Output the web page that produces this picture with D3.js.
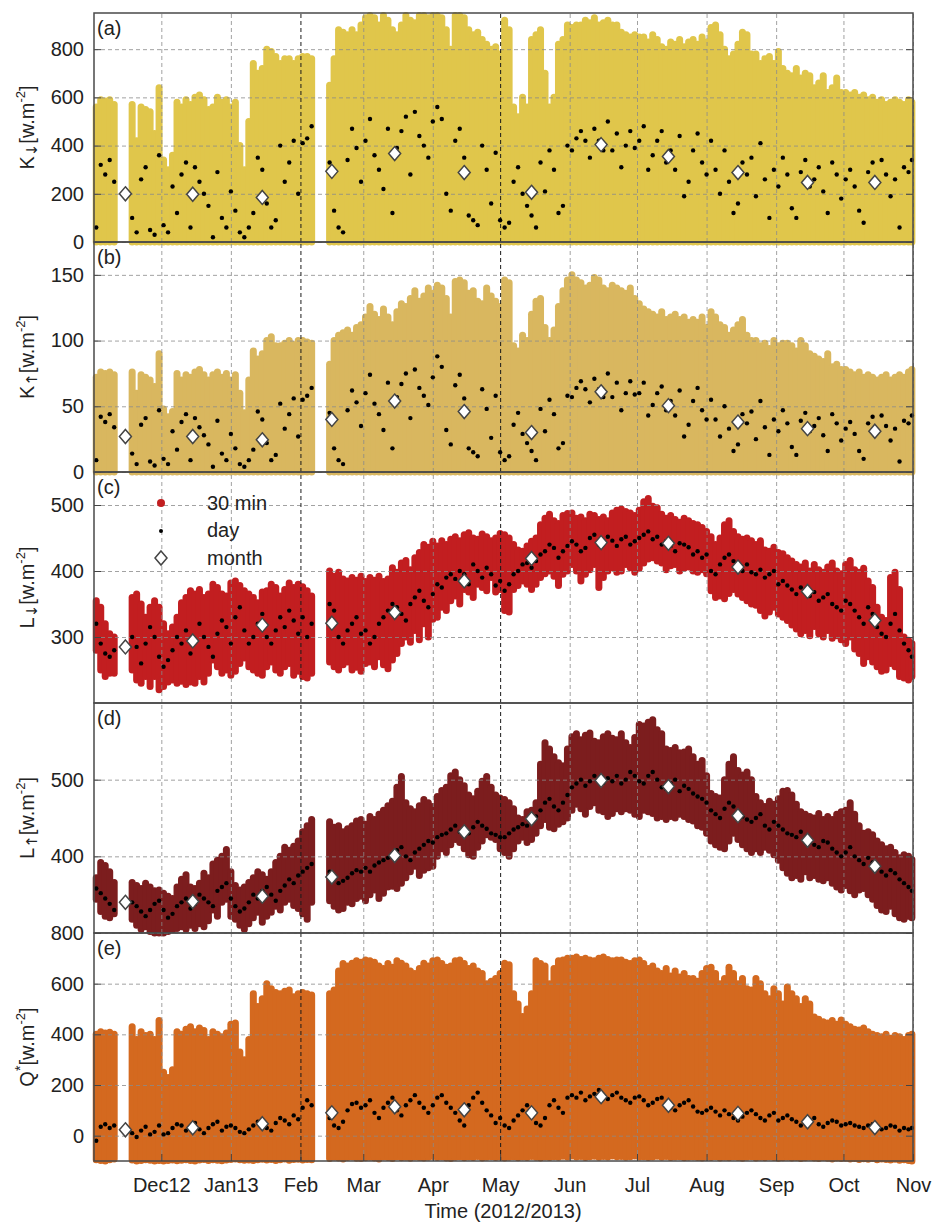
<!DOCTYPE html>
<html>
<head>
<meta charset="utf-8">
<script src="https://cdn.jsdelivr.net/npm/d3@7"></script>
<style>
body { margin: 0; background: #fff; }
svg text { font-family: "Liberation Sans", Arial, sans-serif; fill: #222; }
</style>
</head>
<body>
<svg id="chart" width="933" height="1228"></svg>
<script>
// 2-day bins from 1 Nov 2012 to 31 Oct 2013 (183 bins), null = no data
const monthLabels = ["Dec12", "Jan13", "Feb", "Mar", "Apr", "May", "Jun", "Jul", "Aug", "Sep", "Oct", "Nov"];
const nightFloor = 0;

// (a) K down, 30-min upper envelope per bin
const kdMax = [
    560,590,585,590,570, null,null,null, 570,420,560,550,540,450,640,
    340,300,360,580, 560,590,570,600,610,590,550, 560,600,580,590,560,
    580,400,300,500, 740,700,720, 800,790,770, 740,760,760,740, 760,770,770,760,
    null,null,null, 650,760,880,870,860,880,860,900,930,
    940,930,900,940,920,880,860,900,940,920,910,940,940,930,940,
    940,930,880,800,940,940,930,880,860,870,840,820,800,810,780,
    920,880,560,520,600,560,840,860,880,700,560,600,820,840,900,
    890,900,900,920,910,930,900,910,920,900,900, 870,860,850,860,850,
    850,830,860,840,810,800,830,820,840,810,830, 840,820,850,830, 890,900,860,
    800,760,780,820,870,860,780, 780,740,760,770,740,790,720, 700,690,720,680,700,690,
    640,660,690,620,640,680,620, 620,610,620,600,610,
    590,600,580,590,570,580,590,580,570,590,580
];
const kdDay = [
    60,320,280,340,250,null,null,null,100,40,260,310,50,30,360,
    70,40,230,120,280,330,60,310,250,200,150,20,290,100,60,210,
    130,40,20,60,120,350,300,160,60,90,400,250,330,420,200,
    410,430,480,null,null,null,330,130,60,40,340,470,390,250,
    420,510,360,300,220,470,120,390,460,520,280,540,440,400,350,500,
    560,510,200,130,420,470,350,110,90,70,400,300,160,370,90,
    60,80,250,310,200,150,110,60,330,210,380,300,120,150,400,
    380,430,460,420,350,470,420,380,500,380,450,310,400,460,390,
    420,480,300,360,420,460,330,380,300,440,190,250,380,450,330,280,
    420,300,200,380,250,120,160,330,280,350,190,410,260,100,300,
    230,350,280,140,100,290,340,230,260,310,210,120,330,280,180,
    260,300,230,130,80,290,330,250,340,280,190,260,60,310,290,340
];
const kdMonth = [200, 198, 185, 293, 367, 288, 206, 404, 355, 288, 247, 247];

// (b) K up
const kuMax = [
    72,76,75,76,74, null,null,null, 76,60,74,72,70,65,90,
    48,42,46,75, 70,74,72,76,78,74,70, 74,76,72,75,70,
    74,60,45,70, 92,86,90, 100,103,96, 96,98,100,97, 100,100,99,98,
    null,null,null, 82,100,104,106,108,104,110,112,118,
    126,120,116,124,118,112,122,128,126,132,138,130,134,140,136,
    142,140,132,118,145,146,144,136,138,130,128,140,134,130,126,
    146,144,96,92,104,100,120,130,132,110,100,108,126,138,146,
    150,146,144,140,142,148,146,140,138,142,140, 138,136,140,132,128,
    124,122,120,118,122,116,118,120,116,118,114, 116,114,118,110, 122,118,112,
    110,104,108,112,116,104,100, 100,96,98,94,100,96,98, 98,96,92,100,96,90,
    88,86,84,90,80,82,78, 78,76,74,76,72,
    74,72,70,72,74,70,72,74,72,76,78
];
const kuDay = [
    9,42,38,44,34,null,null,null,14,6,36,41,8,5,47,
    10,6,31,17,38,44,9,41,34,28,21,4,39,14,9,29,
    18,6,4,9,17,46,40,22,9,13,52,33,44,56,27,
    55,58,64,null,null,null,45,18,9,6,47,62,53,35,
    60,74,52,44,32,68,18,57,67,75,41,78,64,58,51,72,
    88,80,32,21,66,74,56,18,15,12,63,48,26,58,15,
    9,12,36,45,29,22,16,9,48,31,55,44,18,22,58,
    57,64,69,63,53,71,63,57,75,57,68,47,60,69,59,
    60,68,43,51,60,65,47,54,43,62,27,36,54,64,47,40,
    55,40,27,50,33,16,21,44,37,46,25,54,34,13,40,
    31,47,37,19,13,39,45,31,35,41,28,16,44,37,24,
    33,38,29,16,10,37,42,32,43,35,24,33,8,39,37,43
];
const kuMonth = [27, 27, 24.5, 40, 54, 46, 30, 61, 50.5, 38, 33, 31];

// (c) L down
const ldMax = [
    355,345,320,305,300, null,null,null, 360,365,350,330,345,355,345,
    320,305,315,330, 352,360,370,365,372,360,365, 380,375,365,362,382,
    385,378,370,365, 360,352,368, 370,380,375, 362,372,382,375, 380,376,370,362,
    null,null,null, 400,392,398,388,385,390,386,392,384,
    390,386,392,384,388,405,398,412,416,402,420,428,440,436,445,
    438,446,440,448,452,446,455,458,450,448,456,452,446,450,457,
    455,450,440,432,430,438,445,450,470,480,486,476,472,484,487,
    488,480,482,476,486,484,478,482,476,488,492, 494,490,488,484,492,
    505,510,498,496,486,480,484,478,474,480,476, 472,470,466,460, 452,440,450,
    470,476,460,452,448,450,446, 440,446,432,430,436,428,426, 420,415,410,406,412,400,
    410,402,398,406,412,400,396, 410,416,402,398,404,
    385,375,345,330,325,390,398,372,300,295,290
];
const ldMin = [
    280,250,240,245,245, null,null,null, 250,235,230,240,225,240,220,
    225,232,235,230, 233,228,232,230,240,232,245, 265,255,245,250,242,
    248,260,268,255, 250,245,242, 255,262,250, 245,255,260,242, 248,240,238,245,
    null,null,null, 262,255,250,258,262,250,254,248,260,
    262,255,270,258,252,265,275,290,300,292,310,296,320,300,327,
    330,345,340,355,362,350,372,368,360,380,375,370,390,368,372,
    340,338,372,378,385,380,372,380,390,396,400,392,378,395,400,
    410,400,385,395,402,410,375,390,400,405,398, 400,410,405,398,404,
    412,418,420,415,412,402,408,410,400,404,406, 400,398,402,396, 370,360,362,
    358,366,372,365,360,355,350, 348,340,332,338,345,335,330, 325,318,312,305,310,302,
    316,305,300,310,298,302,296, 290,300,282,275,260,
    270,262,255,248,250,260,255,240,238,235,240
];
const ldDay = [
    320,290,275,270,280,null,null,null,300,285,260,290,315,300,270,
    255,265,280,300,290,310,275,295,320,300,285,270,305,325,315,290,
    330,345,310,290,300,320,335,300,290,310,330,315,340,325,305,
    330,300,320,null,null,null,350,340,300,290,310,320,330,305,
    310,290,300,320,330,340,350,345,335,325,350,360,370,355,345,365,
    380,375,390,395,388,400,395,380,410,400,390,405,395,378,385,
    370,380,395,400,410,412,405,415,425,430,440,435,420,430,438,
    445,440,430,435,450,455,440,445,452,446,438,448,452,440,445,
    450,455,460,448,452,440,445,438,430,442,440,436,425,430,420,425,
    400,395,410,420,425,415,405,400,410,398,395,402,390,395,400,
    380,385,378,372,365,375,370,362,368,355,360,365,350,345,340,
    355,350,340,330,320,345,335,315,305,300,320,335,310,290,280,270
];
const ldMonth = [285, 294, 318, 321, 337, 385, 419, 443, 442, 406, 369, 325];

// (d) L up
const luMax = [
    372,392,388,380,366, null,null,null, 366,362,358,365,360,355,356,
    352,348,345,360, 370,376,360,358,365,378,372, 390,395,400,409,380,
    362,356,360,366, 372,380,376, 370,380,392, 400,412,408,413, 420,432,440,448,
    null,null,null, 445,438,440,432,436,440,446,448,442,
    452,448,455,460,466,472,490,504,470,462,458,466,474,470,465,
    478,486,490,505,510,500,492,480,475,485,498,504,490,480,476,
    474,470,462,450,448,458,460,470,520,548,540,530,522,518,540,
    556,560,552,558,561,550,548,556,560,554,552, 560,548,542,555,572,
    570,575,578,565,560,540,538,542,535,536,540, 530,520,525,505, 482,478,476,
    500,520,530,512,506,510,500, 478,470,465,472,468,475,485, 486,480,468,458,455,452,
    450,456,448,452,448,455,458, 460,470,455,440,430,
    432,428,420,415,410,412,405,398,402,400,396
];
const luMin = [
    344,328,322,320,325, null,null,null, 318,310,305,308,302,300,300,
    300,302,304,306, 308,305,310,306,312,308,316, 330,322,340,344,322,
    318,310,305,312, 320,327,314, 322,327,335, 330,340,344,336, 332,325,318,340,
    null,null,null, 342,335,330,332,340,338,345,348,342,
    350,356,345,352,360,361,358,365,372,380,387,375,382,385,387,
    400,410,405,415,422,418,410,402,400,412,420,428,425,422,410,
    405,400,410,420,425,418,422,430,440,448,438,436,442,445,450,
    460,468,462,455,465,470,460,458,452,456,462, 458,462,460,455,452,
    460,458,456,450,452,448,452,450,455,452,448, 446,440,438,430, 420,415,412,
    410,420,430,422,415,410,405, 410,405,412,408,402,395,385, 378,372,375,370,380,372,
    375,370,368,372,365,360,356, 362,355,350,356,358,
    350,344,336,330,328,335,325,320,318,322,320
];
const luDay = [
    358,352,345,338,330,null,null,null,340,335,328,322,330,338,342,
    330,320,325,335,340,345,332,338,350,345,340,335,355,360,365,345,
    335,328,332,340,350,345,355,360,350,342,355,362,370,365,375,
    380,385,390,null,null,null,380,372,365,368,372,378,382,380,
    385,380,388,392,395,398,402,408,412,400,395,405,410,415,420,418,
    425,428,430,435,440,432,428,430,438,445,440,436,430,428,425,
    425,430,435,438,442,440,445,452,460,470,475,465,460,470,480,
    490,495,500,492,498,505,500,496,502,498,505,495,500,510,505,
    498,495,505,510,500,490,488,495,500,485,492,488,482,478,475,470,
    460,455,450,462,470,465,458,452,448,445,450,455,440,435,445,
    440,435,430,428,425,432,420,418,415,412,420,418,410,405,400,
    405,412,400,395,390,398,392,385,380,375,382,378,370,365,360,355
];
const luMonth = [340, 341, 348, 373, 401, 432, 449, 499, 491, 453, 421, 387];

// (e) Q*
const qsMax = [
    400,410,405,408,400, null,null,null, 430,380,410,395,400,380,455,
    250,230,260,410, 400,420,430,410,425,415,380, 410,400,390,405,440,
    445,330,300,380, 560,510,540, 600,580,565, 560,570,575,548, 560,565,560,555,
    null,null,null, 560,575,650,680,670,681,690,685,693,
    690,685,670,660,680,665,690,681,670,650,640,660,681,670,690,
    693,680,665,670,690,693,680,660,670,650,640,600,610,620,640,
    681,675,560,520,470,500,560,690,680,670,600,660,690,693,700,
    700,705,695,700,693,690,700,705,695,690,693, 693,685,680,690,693,
    680,660,670,650,640,660,630,650,626,640,620, 620,610,640,660, 665,640,600,
    620,665,640,600,620,580,575, 620,600,560,540,580,560,520, 587,560,540,510,540,520,
    468,460,450,445,455,440,457, 440,430,420,417,425,
    410,400,395,390,400,385,395,390,380,395,400
];
const qsMin = [
    -95,-98,-100,-95,-92, null,null,null, -96,-100,-98,-95,-97,-100,-98,
    -100,-98,-96,-99, -97,-95,-98,-100,-96,-94,-98, -95,-97,-99,-96,-94,
    -92,-95,-97,-96, -98,-95,-93, -96,-94,-98, -95,-92,-97,-94, -93,-96,-94,-95,
    null,null,null, -90,-85,-88,-92,-86,-84,-89,-90,-87,
    -85,-88,-92,-84,-86,-90,-83,-87,-85,-89,-84,-86,-88,-85,-82,
    -86,-84,-88,-90,-85,-83,-87,-84,-86,-82,-88,-85,-83,-86,-84,
    -88,-85,-83,-87,-84,-86,-82,-85,-88,-84,-86,-83,-85,-81,-84,
    -80,-84,-82,-86,-83,-81,-85,-82,-84,-80,-83, -82,-85,-83,-80,-84,
    -83,-86,-84,-81,-85,-82,-86,-84,-83,-87,-85, -84,-86,-88,-85, -86,-83,-88,
    -85,-87,-84,-86,-89,-85,-83, -88,-85,-87,-84,-86,-89,-87, -85,-88,-86,-90,-87,-85,
    -88,-90,-86,-89,-92,-88,-90, -89,-92,-90,-94,-91,
    -93,-90,-95,-92,-94,-96,-93,-97,-95,-98,-100
];
const qsDay = [
    -20,35,45,30,40,null,null,null,10,-5,20,35,5,15,40,
    5,10,30,45,40,20,35,50,25,10,30,45,55,20,35,40,
    30,15,10,25,40,55,45,30,20,50,70,60,45,80,65,
    110,140,120,null,null,null,70,40,30,55,100,125,130,110,
    120,140,90,70,110,130,150,100,80,120,140,160,130,110,90,120,
    150,160,130,110,90,60,40,120,150,170,130,100,80,50,70,
    40,30,60,80,100,120,90,50,40,70,120,140,110,90,150,
    160,150,170,140,155,165,180,150,145,160,170,150,140,130,150,
    155,140,120,130,145,150,125,110,100,120,130,140,115,95,90,100,
    110,95,80,100,85,70,60,75,90,100,85,70,60,80,90,
    60,70,80,65,55,40,50,60,70,45,35,50,60,55,40,
    45,50,40,35,30,40,45,35,25,30,40,35,20,30,25,30
];
const qsMonth = [23, 31, 47, 90, 114, 102, 90, 154, 120, 88, 55, 32];

const N_BINS = 183;
[kdMax, kdDay, kuMax, kuDay, ldMax, ldMin, ldDay, luMax, luMin, luDay, qsMax, qsMin, qsDay].forEach((a, i) => {
    if (a.length != N_BINS) throw new Error('array ' + i + ' has ' + a.length);
});

const start = new Date(Date.UTC(2012, 10, 1));
const end = new Date(Date.UTC(2013, 10, 1));
const binDates = d3.range(N_BINS).map(i => d3.utcHour.offset(start, Math.min(i * 2 + 1, 364.5) * 24));
const monthDates = d3.range(12).map(i => new Date(Date.UTC(2012, 10 + i, 15)));
const monthTicks = d3.utcMonth.range(new Date(Date.UTC(2012, 11, 1)), new Date(Date.UTC(2013, 10, 2)));

const left = 94;
const right = 913;
const svg = d3.select('#chart');
const x = d3.scaleUtc().domain([start, end]).range([left, right]);

const panels = [
    {tag: '(a)', top: 13, bottom: 242, domain: [0, 950], ticks: [0, 200, 400, 600, 800], color: '#e0c64b',
     max: kdMax, min: null, day: kdDay, month: kdMonth, sym: 'K', arrow: '\u2193'},
    {tag: '(b)', top: 242, bottom: 472, domain: [0, 175], ticks: [0, 50, 100, 150], color: '#d9b75f',
     max: kuMax, min: null, day: kuDay, month: kuMonth, sym: 'K', arrow: '\u2191'},
    {tag: '(c)', top: 472, bottom: 703, domain: [200, 550], ticks: [300, 400, 500], color: '#c21e20',
     max: ldMax, min: ldMin, day: ldDay, month: ldMonth, sym: 'L', arrow: '\u2193'},
    {tag: '(d)', top: 703, bottom: 933, domain: [300, 600], ticks: [400, 500], color: '#7c1d1e',
     max: luMax, min: luMin, day: luDay, month: luMonth, sym: 'L', arrow: '\u2191'},
    {tag: '(e)', top: 933, bottom: 1161, domain: [-100, 800], ticks: [0, 200, 400, 600, 800], color: '#d4691f',
     max: qsMax, min: qsMin, day: qsDay, month: qsMonth, sym: 'Q', star: true}
];

const diamond = 'M0,-7L6,0L0,7L-6,0Z';

panels.forEach((p, k) => {
    const y = d3.scaleLinear().domain(p.domain).range([p.bottom, p.top]);
    const g = svg.append('g');

    // 30 min cloud, one column per bin
    const cloud = p.max.map((v, i) => ({t: binDates[i], hi: v, lo: p.min ? p.min[i] : nightFloor}))
        .filter(d => d.hi != null);
    g.append('g').selectAll('line').data(cloud).join('line')
        .attr('x1', d => x(d.t)).attr('x2', d => x(d.t))
        .attr('y1', d => y(d.hi)).attr('y2', d => y(d.lo))
        .attr('stroke', p.color).attr('stroke-width', 7).attr('stroke-linecap', 'round');

    // grid
    g.append('g').attr('transform', `translate(${left},0)`)
        .call(d3.axisLeft(y).tickValues(p.ticks).tickSize(-(right - left)).tickFormat(''))
        .call(a => a.select('.domain').remove())
        .selectAll('line').attr('stroke', '#8a8a8a').attr('stroke-width', 0.8).attr('stroke-dasharray', '4,3');
    g.append('g').attr('transform', `translate(0,${p.bottom})`)
        .call(d3.axisBottom(x).tickValues(monthTicks).tickSize(-(p.bottom - p.top)).tickFormat(''))
        .call(a => a.select('.domain').remove())
        .selectAll('line')
        .attr('stroke', d => (d.getUTCMonth() == 1 || d.getUTCMonth() == 4) ? '#1a1a1a' : '#8a8a8a')
        .attr('stroke-width', d => (d.getUTCMonth() == 1 || d.getUTCMonth() == 4) ? 1 : 0.8)
        .attr('stroke-dasharray', '4,3');

    // daily values
    const days = p.day.map((v, i) => ({t: binDates[i], v})).filter(d => d.v != null);
    g.append('g').selectAll('circle').data(days).join('circle')
        .attr('cx', d => x(d.t)).attr('cy', d => y(d.v)).attr('r', 2.2).attr('fill', '#000');

    // monthly values
    g.append('g').selectAll('path').data(p.month).join('path')
        .attr('d', diamond)
        .attr('transform', (d, i) => `translate(${x(monthDates[i])},${y(d)})`)
        .attr('fill', '#fff').attr('stroke', '#444').attr('stroke-width', 1.5);

    // axes
    g.append('g').attr('transform', `translate(${left},0)`)
        .call(d3.axisLeft(y).tickValues(p.ticks).tickSize(-7).tickPadding(10))
        .call(a => a.select('.domain').remove())
        .call(a => a.selectAll('line').attr('stroke', '#444'))
        .call(a => a.selectAll('text').attr('font-size', 20).attr('fill', '#222'));
    g.append('g').attr('transform', `translate(${right},0)`)
        .call(d3.axisRight(y).tickValues(p.ticks).tickSize(-7).tickFormat(''))
        .call(a => a.select('.domain').remove())
        .call(a => a.selectAll('line').attr('stroke', '#444'));

    g.append('rect')
        .attr('x', left).attr('y', p.top)
        .attr('width', right - left).attr('height', p.bottom - p.top)
        .attr('fill', 'none').attr('stroke', '#4a4a4a').attr('stroke-width', 1.5);

    g.append('text').attr('x', left + 3).attr('y', p.top + 22)
        .attr('font-size', 20).text(p.tag);

    // y label
    const cy = (p.top + p.bottom) / 2;
    const t = g.append('text')
        .attr('transform', `translate(34,${cy}) rotate(-90)`)
        .attr('text-anchor', 'middle').attr('font-size', 20);
    t.append('tspan').text(p.sym);
    if (p.arrow) {
        t.append('tspan').attr('font-family', '"DejaVu Sans", sans-serif')
            .attr('font-size', 15).attr('dy', 3).text(p.arrow);
        t.append('tspan').attr('dy', -3).text('[w.m');
    } else {
        t.append('tspan').attr('font-size', 14).attr('dy', -9).text('*');
        t.append('tspan').attr('dy', 9).text('[w.m');
    }
    t.append('tspan').attr('font-size', 13).attr('dy', -9).text('-2');
    t.append('tspan').attr('dy', 9).text(']');

    if (k == panels.length - 1) {
        g.append('g').attr('transform', `translate(0,${p.bottom})`)
            .call(d3.axisBottom(x).tickValues(monthTicks).tickSize(-7).tickPadding(17)
                .tickFormat((d, i) => monthLabels[i]))
            .call(a => a.select('.domain').remove())
            .call(a => a.selectAll('line').attr('stroke', '#444'))
            .call(a => a.selectAll('text').attr('font-size', 20).attr('fill', '#222'));
    }

    // legend in (c)
    if (p.tag == '(c)') {
        const lg = g.append('g');
        lg.append('circle').attr('cx', 161).attr('cy', 503).attr('r', 4).attr('fill', p.color);
        lg.append('circle').attr('cx', 161).attr('cy', 531).attr('r', 2).attr('fill', '#000');
        lg.append('path').attr('d', diamond).attr('transform', 'translate(161,558)')
            .attr('fill', '#fff').attr('stroke', '#444').attr('stroke-width', 1.5);
        lg.append('text').attr('x', 207).attr('y', 510).attr('font-size', 20).text('30 min');
        lg.append('text').attr('x', 207).attr('y', 537).attr('font-size', 20).text('day');
        lg.append('text').attr('x', 207).attr('y', 565).attr('font-size', 20).text('month');
    }
});

svg.append('text').attr('x', 503).attr('y', 1218).attr('text-anchor', 'middle')
    .attr('font-size', 20).text('Time (2012/2013)');
</script>
</body>
</html>
